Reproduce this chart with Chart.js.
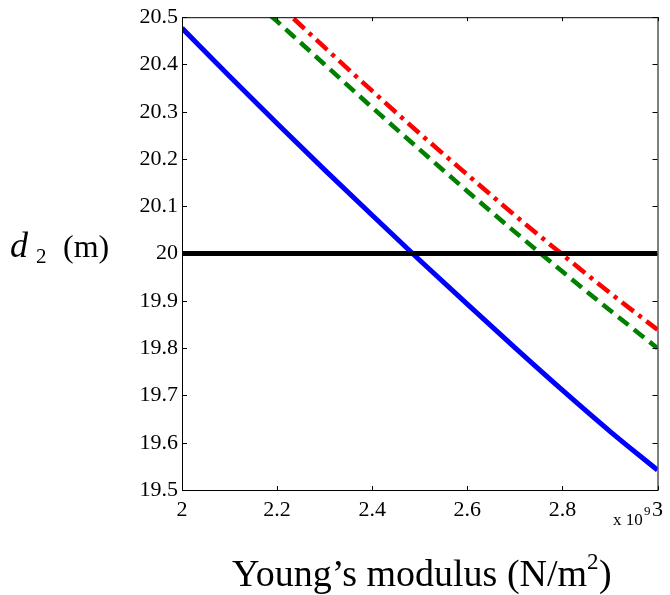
<!DOCTYPE html>
<html>
<head>
<meta charset="utf-8">
<script src="https://cdn.jsdelivr.net/npm/chart.js@4"></script>
<style>
  html, body { margin: 0; padding: 0; background: #fff; }
</style>
</head>
<body>
<canvas id="modulusChart" width="670" height="595"></canvas>
<script>
  // Young's modulus (x 10^9 N/m^2)
  const modulus = [2.0, 2.1, 2.2, 2.3, 2.4, 2.5, 2.6, 2.7, 2.8, 2.9, 3.0];

  // d2 (m)
  const blueD2  = [20.477, 20.375, 20.275, 20.177, 20.081, 19.986, 19.893, 19.801, 19.711, 19.624, 19.542];
  const greenD2 = [20.674, 20.582, 20.491, 20.400, 20.309, 20.220, 20.132, 20.046, 19.962, 19.880, 19.800];
  const redD2   = [20.725, 20.626, 20.530, 20.436, 20.344, 20.254, 20.167, 20.081, 19.998, 19.917, 19.839];

  const targetD2 = 20;
  const xTicks = [2, 2.2, 2.4, 2.6, 2.8, 3];
  const yTicks = [19.5, 19.6, 19.7, 19.8, 19.9, 20, 20.1, 20.2, 20.3, 20.4, 20.5];

  const SERIF = "'Liberation Serif', 'Times New Roman', serif";
  const toPoints = ys => modulus.map((x, i) => ({ x: x, y: ys[i] }));

  // MATLAB style frame, inward ticks and titles
  const matlabFrame = {
    id: "matlabFrame",
    afterDraw(chart) {
      const ctx = chart.ctx;
      const a = chart.chartArea;
      const xs = chart.scales.x;
      const ys = chart.scales.y;
      ctx.save();
      ctx.strokeStyle = "#000";
      ctx.lineWidth = 1;
      ctx.strokeRect(a.left + 0.5, a.top + 0.5, a.right - a.left, a.bottom - a.top);

      ctx.beginPath();
      xTicks.forEach(v => {
        const px = Math.round(xs.getPixelForValue(v)) + 0.5;
        ctx.moveTo(px, a.bottom); ctx.lineTo(px, a.bottom - 4);
        ctx.moveTo(px, a.top); ctx.lineTo(px, a.top + 4);
      });
      yTicks.forEach(v => {
        const py = Math.round(ys.getPixelForValue(v)) + 0.5;
        ctx.moveTo(a.left, py); ctx.lineTo(a.left + 5, py);
        ctx.moveTo(a.right, py); ctx.lineTo(a.right - 5, py);
      });
      ctx.stroke();

      ctx.fillStyle = "#000";
      ctx.textBaseline = "alphabetic";
      ctx.textAlign = "left";

      // x 10^9
      ctx.font = "17px " + SERIF;
      ctx.fillText("x 10", 613, 525);
      ctx.font = "13px " + SERIF;
      ctx.fillText("9", 644, 515);

      // x title
      ctx.font = "38px " + SERIF;
      const main = "Young\u2019s modulus (N/m";
      const w = ctx.measureText(main).width;
      const x0 = 232;
      ctx.fillText(main, x0, 586);
      ctx.font = "23px " + SERIF;
      ctx.fillText("2", x0 + w, 569);
      ctx.font = "38px " + SERIF;
      ctx.fillText(")", x0 + w + 12, 586);

      // y title
      ctx.font = "italic 36px " + SERIF;
      ctx.fillText("d", 10, 257);
      ctx.font = "21px " + SERIF;
      ctx.fillText("2", 36, 263);
      ctx.font = "32px " + SERIF;
      ctx.fillText("(m)", 63, 257);
      ctx.restore();
    }
  };

  new Chart(document.getElementById("modulusChart"), {
    type: "line",
    data: {
      datasets: [
        {
          label: "target",
          data: [{ x: 2, y: targetD2 }, { x: 3, y: targetD2 }],
          borderColor: "#000",
          borderWidth: 5,
          pointRadius: 0,
          clip: 0
        },
        {
          label: "blue",
          data: toPoints(blueD2),
          borderColor: "#0000ff",
          borderWidth: 5,
          pointRadius: 0,
          cubicInterpolationMode: "monotone",
          clip: 0
        },
        {
          label: "green",
          data: toPoints(greenD2),
          borderColor: "#008000",
          borderWidth: 4.5,
          borderDash: [13, 7],
          pointRadius: 0,
          cubicInterpolationMode: "monotone",
          clip: 0
        },
        {
          label: "red",
          data: toPoints(redD2),
          borderColor: "#ff0000",
          borderWidth: 4.5,
          borderDash: [15, 6, 4, 6],
          pointRadius: 0,
          cubicInterpolationMode: "monotone",
          clip: 0
        }
      ]
    },
    options: {
      responsive: false,
      animation: false,
      devicePixelRatio: 1,
      layout: { padding: { left: 0, right: 4, top: 9, bottom: 0 } },
      plugins: {
        legend: { display: false },
        tooltip: { enabled: false }
      },
      scales: {
        x: {
          type: "linear",
          min: 2,
          max: 3,
          afterFit: s => { s.height = 105; },
          afterBuildTicks: s => { s.ticks = xTicks.map(v => ({ value: v })); },
          grid: { display: false, drawTicks: false },
          border: { display: false },
          ticks: {
            color: "#000",
            padding: 7,
            font: { family: SERIF, size: 22 },
            callback: v => String(parseFloat(v.toFixed(1)))
          }
        },
        y: {
          type: "linear",
          min: 19.5,
          max: 20.5,
          afterFit: s => { s.width = 182; },
          afterBuildTicks: s => { s.ticks = yTicks.map(v => ({ value: v })); },
          grid: { display: false, drawTicks: false },
          border: { display: false },
          ticks: {
            color: "#000",
            padding: 4,
            font: { family: SERIF, size: 22 },
            callback: v => String(parseFloat(v.toFixed(1)))
          }
        }
      }
    },
    plugins: [matlabFrame]
  });
</script>
</body>
</html>
